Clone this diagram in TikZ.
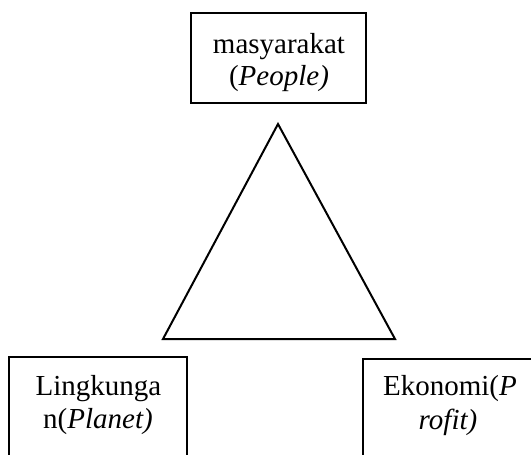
\documentclass[tikz,border=0pt]{standalone}
\usepackage{fontspec}
\setmainfont{Liberation Serif}
\begin{document}
\begin{tikzpicture}[x=1pt,y=-1pt,
  boxstyle/.style={draw=black,line width=2.2pt,inner sep=0pt},
  txt/.style={anchor=base,inner sep=0pt,font=\fontsize{29}{33}\selectfont}]
\path[use as bounding box] (0,0) rectangle (531,455);
\clip (0,0) rectangle (531,455);
% top box
\node[boxstyle,minimum width=175pt,minimum height=90pt] (people) at (278.5,58) {};
\node[txt] (p1) at (279,53) {masyarakat};
\node[txt] (p2) at (279,85) {(\textit{People)}};
% triangle
\draw[line width=2pt,line join=miter] (278,124) -- (163,339) -- (395,339) -- cycle;
% left box
\node[boxstyle,minimum width=178pt,minimum height=120pt] (planet) at (98,417) {};
\node[txt] (l1) at (98.5,395) {Lingkunga};
\node[txt] (l2) at (98,428) {n(\textit{Planet)}};
% right box
\node[boxstyle,minimum width=175pt,minimum height=120pt] (profit) at (450.5,419) {};
\node[txt] (r1) at (450,395) {Ekonomi(\textit{P}};
\node[txt] (r2) at (448,429) {\textit{rofit)}};
\end{tikzpicture}
\end{document}
